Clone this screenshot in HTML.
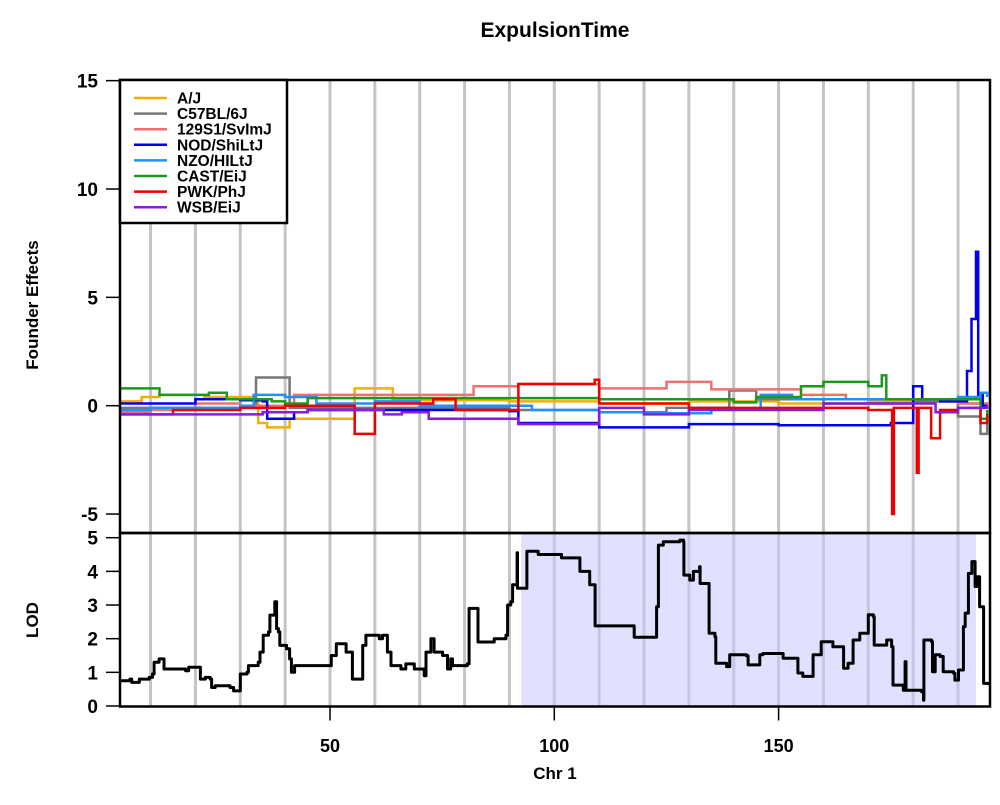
<!DOCTYPE html>
<html><head><meta charset="utf-8"><style>
html,body{margin:0;padding:0;background:#fff}
svg text{font-family:"Liberation Sans",Arial,sans-serif;font-weight:bold;fill:#000}
</style></head><body>
<svg id="chart" width="1000" height="800" viewBox="0 0 1000 800" xmlns="http://www.w3.org/2000/svg">
<text x="555" y="37" font-size="21" text-anchor="middle">ExpulsionTime</text>
<g id="grid"></g>
<g id="shade"></g>
<g id="series"></g>
<g id="lod"></g>
<g id="axes"></g>
<g id="legend"></g>
<text transform="translate(38,305) rotate(-90)" font-size="17" text-anchor="middle">Founder Effects</text>
<text transform="translate(38,620) rotate(-90)" font-size="17" text-anchor="middle">LOD</text>
<text x="555" y="779" font-size="17" text-anchor="middle">Chr 1</text>
</svg>
<script>
const NS="http://www.w3.org/2000/svg";
const seriesNames=["A/J","C57BL/6J","129S1/SvImJ","NOD/ShiLtJ","NZO/HILtJ","CAST/EiJ","PWK/PhJ","WSB/EiJ"];
const seriesColors=["#f0b000","#777777","#ee7070","#0000ee","#1e90ff","#1a9a1a","#ee0000","#8a1ae0"];
const ajX=[3,8,12,22,33,34,36,41,55.5,64,68,90,110,130,150,170,190,196.5];
const ajV=[0.2,0.4,0.5,0.4,0.3,-0.8,-1.0,-0.6,0.8,0.3,0.25,0.2,0.1,0.2,0.1,0.2,0.1,0];
const c57X=[3,20,33.5,41,60,90,110,125,139,145,160,180,190,195,196.5];
const c57V=[-0.1,-0.1,1.3,-0.1,-0.1,-0.2,-0.3,-0.1,0.7,0.3,0.1,0.2,-0.5,-1.3,-0.8];
const s129X=[3,10,20,30,42,60,68,82,92,110,125,135,155,165,180,190,196.5];
const s129V=[-0.3,-0.2,0.1,0.0,0.5,0.5,0.5,0.9,1.0,0.8,1.1,0.75,0.5,0.3,0.3,0.1,0];
const nodX=[3,10,20,30,35,36,42,45,55,70,90,92,110,130,150,175,180,182,186,192,193,194,194.5,195.5,196.5];
const nodV=[0.1,0.1,0.3,0.25,0.2,-0.6,-0.3,-0.2,-0.2,-0.2,-0.25,-0.8,-1.0,-0.85,-0.9,-0.8,0.9,0.3,0.2,1.6,4.0,7.1,0.5,0,0];
const nzoX=[3,10,30,33,40,47,55,60,70,95,110,125,135,146,153,170,190,195,196.5];
const nzoV=[-0.2,-0.1,0.0,0.5,0.4,0.1,0.1,0.2,0.0,-0.2,-0.3,-0.35,-0.15,0.5,0.3,0.3,0.4,0.6,0.4];
const castX=[3,12,20,23,27,37,40,45,90,110,125,140,145,155,160,170,173,174,185,195,196.5];
const castV=[0.8,0.5,0.5,0.6,0.3,0.2,0.1,0.35,0.35,0.3,0.3,0.15,0.4,0.9,1.1,0.9,1.4,0.3,0.3,-0.6,-0.2];
const pwkX=[3,10,15,30,40,55.5,60,73,78,92,109,110,130,170,175.3,175.7,180.8,181.2,184,186,190,195,196.5];
const pwkV=[-0.4,-0.4,-0.2,-0.1,0.0,-1.3,0.1,0.3,-0.2,1.0,1.2,0.1,-0.1,-0.2,-5.0,-0.1,-3.1,-0.1,-1.5,-0.2,-0.1,-0.8,-0.4];
const wsbX=[3,20,35,45,62,66,72,92,110,120,130,135,160,180,185,190,196.5];
const wsbV=[-0.4,-0.4,-0.3,-0.2,-0.4,-0.3,-0.6,-0.85,-0.1,-0.4,-0.2,-0.2,0.1,0.1,-0.3,-0.1,0];
const allX=[ajX,c57X,s129X,nodX,nzoX,castX,pwkX,wsbX];
const allV=[ajV,c57V,s129V,nodV,nzoV,castV,pwkV,wsbV];
const lodX=[3.2,5.4,5.8,7.5,9.7,10.4,10.8,11.9,13,17.8,18.5,20.7,21.1,22.2,23.3,23.6,24.4,27.7,28.5,29.6,30,31.5,31.8,34,34.4,35.1,36.3,36.6,37.4,37.7,38.1,38.5,38.8,40.3,41,41.4,42.1,44.4,49.9,50.3,51.4,52.9,53.6,54.7,55,56.6,57.3,58,61,61.7,62.8,63.6,65.8,66.9,68.8,71,71.4,72.5,73.2,75.1,76.2,76.9,77.3,80.6,81,82.9,83,86.2,86.6,89.2,89.6,90.3,90.7,91.4,91.7,91.8,93.7,93.9,95.2,96.4,101.6,105.7,107.9,109,109.1,117.6,117.8,120.6,122.8,123.2,124.3,128,128.8,128.9,130.2,131,132.4,132.5,134.3,134.5,135.8,136,138.4,139.1,142.8,143.2,145.4,145.8,146.5,151,154,154.3,155.4,157.7,159.5,162.1,164.4,164.5,165.5,166.6,168.1,169.6,170,171.1,171.3,174.1,175.2,175.5,177.8,178.2,178.4,181.9,182.3,182.4,184.1,184.3,184.9,186,186.7,189,189.3,190.1,191.2,191.6,192.3,193.1,193.8,194.3,194.8,195.3,195.7,196.8];
const lodV=[0.75,0.8,0.7,0.8,0.85,0.95,1.3,1.4,1.1,1.05,1.15,1.15,0.8,0.85,0.8,0.55,0.6,0.55,0.45,0.45,0.95,1.0,1.2,1.3,1.6,2.1,2.2,2.7,2.7,3.1,2.3,2.2,1.8,1.7,1.4,1.0,1.2,1.2,1.2,1.5,1.85,1.85,1.6,1.6,0.8,0.8,1.8,2.1,2.0,2.1,1.6,1.2,1.1,1.25,1.1,0.9,1.6,2.0,1.6,1.5,1.1,1.4,1.2,1.25,2.9,2.9,1.9,1.9,2.0,2.1,3.0,3.1,3.6,3.6,4.55,3.5,3.5,4.6,4.6,4.5,4.4,4.0,3.6,3.6,2.38,2.38,2.04,2.04,2.95,4.78,4.88,4.93,4.88,3.89,3.74,4.0,4.14,3.64,3.64,2.16,2.06,1.27,1.17,1.52,1.49,1.22,1.22,1.52,1.56,1.42,1.42,0.98,0.88,1.52,1.91,1.76,1.76,1.12,1.27,1.96,2.16,2.16,2.71,2.66,1.81,1.96,1.76,0.62,0.47,1.32,0.47,0.42,0.17,1.96,1.91,1.02,1.52,1.47,1.02,0.97,0.77,1.07,2.36,2.76,3.94,4.29,3.55,3.84,2.95,2.95,0.67,0.62];
const feTicks=[15,10,5,0,-5];
const lodTicks=[0,1,2,3,4,5];
const xTicks=[50,100,150];
const gridX=[10,20,30,40,50,60,70,80,90,100,110,120,130,140,150,160,170,180,190];
const shadeRange=[92.6,194];

const L=120,R=990,T1=80,B1=533,B2=706.5;
const xs=v=>105.7+v*4.486;
const yFE=v=>405.7-v*21.67;
const yLOD=v=>706-v*33.66;
function mk(tag,attrs,parent){const e=document.createElementNS(NS,tag);for(const k in attrs)e.setAttribute(k,attrs[k]);parent.appendChild(e);return e;}
const grid=document.getElementById('grid');
gridX.forEach(g=>{
 const l=mk('line',{x1:xs(g),x2:xs(g),y1:T1,y2:B2,stroke:'#c4c4c4','stroke-width':3},grid);
 
 
});
const sh=mk('rect',{x:xs(shadeRange[0]),y:B1,width:xs(shadeRange[1])-xs(shadeRange[0]),height:B2-B1,fill:'rgba(200,200,255,0.55)'},document.getElementById('shade'));


function stepPath(X,V,yf){let d='M'+xs(X[0]).toFixed(1)+','+yf(V[0]).toFixed(1);for(let i=1;i<X.length;i++){d+='H'+xs(X[i]).toFixed(1)+'V'+yf(V[i]).toFixed(1);}return d;}
const sg=document.getElementById('series');
allX.forEach((X,i)=>{
 const p=mk('path',{d:stepPath(X,allV[i],yFE),fill:'none',stroke:seriesColors[i],'stroke-width':2.5},sg);
 
 
});
const lp=mk('path',{d:stepPath(lodX,lodV,yLOD),fill:'none',stroke:'#000','stroke-width':3,'stroke-linejoin':'round'},document.getElementById('lod'));


const ax=document.getElementById('axes');
const b1=mk('rect',{x:L,y:T1,width:R-L,height:B1-T1,fill:'none',stroke:'#000','stroke-width':2.5},ax);


const b2=mk('rect',{x:L,y:B1,width:R-L,height:B2-B1,fill:'none',stroke:'#000','stroke-width':2.5},ax);


feTicks.forEach(t=>{
 const y=yFE(t);
 mk('line',{x1:L-14,x2:L,y1:y,y2:y,stroke:'#000','stroke-width':1.5},ax);
 const tx=mk('text',{x:L-22,y:y+7,'font-size':19,'text-anchor':'end'},ax);tx.textContent=t;
 
 
});
lodTicks.forEach(t=>{
 const y=yLOD(t);
 mk('line',{x1:L-14,x2:L,y1:y,y2:y,stroke:'#000','stroke-width':1.5},ax);
 const tx=mk('text',{x:L-22,y:y+7,'font-size':19,'text-anchor':'end'},ax);tx.textContent=t;
 
 
});
xTicks.forEach(t=>{
 const x=xs(t);
 mk('line',{x1:x,x2:x,y1:B2,y2:B2+14,stroke:'#000','stroke-width':1.5},ax);
 const tx=mk('text',{x:x,y:752,'font-size':18,'text-anchor':'middle'},ax);tx.textContent=t;
 
 
});
const lg=document.getElementById('legend');
const lb=mk('rect',{x:L,y:T1,width:167,height:143,fill:'#fff',stroke:'#000','stroke-width':2.5},lg);


seriesNames.forEach((n,i)=>{
 const y=98+i*15.6;
 const ln=mk('line',{x1:134,x2:167,y1:y,y2:y,stroke:seriesColors[i],'stroke-width':2.5},lg);
 
 
 const tx=mk('text',{x:177,y:y+5.5,'font-size':15.5},lg);tx.textContent=n;
 
 
});
</script>
</body></html>
